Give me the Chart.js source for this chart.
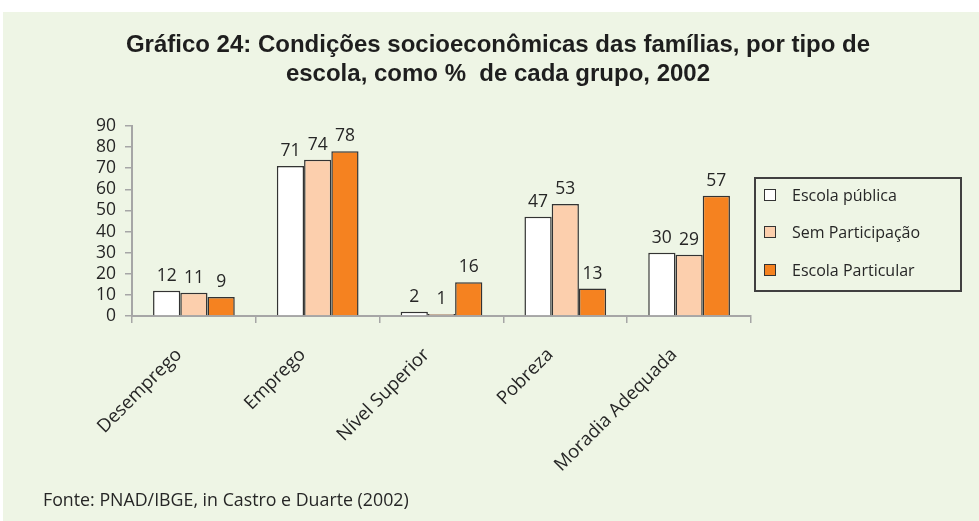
<!DOCTYPE html>
<html>
<head>
<meta charset="utf-8">
<script src="https://cdn.jsdelivr.net/npm/chart.js@4.4.0/dist/chart.umd.min.js"></script>
<style>
    html, body { margin: 0; padding: 0; background: #ffffff; }
    body { width: 979px; height: 521px; position: relative; overflow: hidden; }
    #panel { position: absolute; left: 3px; top: 12px; width: 976px; height: 509px; background: #eef5e5; }
    #chartBox { position: absolute; left: 0; top: 0; width: 976px; height: 509px; }
    #title {
        position: absolute; left: 0; top: 17px; width: 990px; text-align: center;
        font-family: 'Liberation Sans', Arial, sans-serif; font-weight: bold; font-size: 24px;
        line-height: 29px; color: #1e1e1e;
    }
    #legend {
        position: absolute; left: 751px; top: 165px; width: 204px; height: 111px;
        border: 2px solid #404040; font-family: 'Open Sans', sans-serif; font-size: 16px; color: #262626;
    }
    .item { position: absolute; left: 8px; height: 22px; line-height: 22px; white-space: nowrap; }
    .swatch { position: absolute; left: 0; top: 5px; width: 10px; height: 10px; border: 1.5px solid #333; }
    .item span.txt { position: absolute; left: 28px; top: 0; }
    #source {
        position: absolute; left: 40px; top: 475px; font-family: 'Open Sans', sans-serif;
        font-size: 17.8px; color: #262626; white-space: nowrap;
    }
</style>
</head>
<body>
<div id="panel">
    <div id="chartBox"><canvas id="barChart"></canvas></div>
    <div id="title">Gráfico 24: Condições socioeconômicas das famílias, por tipo de<br>escola, como %&nbsp; de cada grupo, 2002</div>
    <div id="legend"></div>
    <div id="source">Fonte: PNAD/IBGE, in Castro e Duarte (2002)</div>
</div>
<script>
// Data
const categories = ['Desemprego', 'Emprego', 'Nível Superior', 'Pobreza', 'Moradia Adequada'];
const escolaPublica = [12, 71, 2, 47, 30];
const semParticipacao = [11, 74, 1, 53, 29];
const escolaParticular = [9, 78, 16, 13, 57];
const seriesNames = ['Escola pública', 'Sem Participação', 'Escola Particular'];
const seriesColors = ['#ffffff', '#fccfad', '#f58220'];
const yTicks = [0, 10, 20, 30, 40, 50, 60, 70, 80, 90];

const axisGray = '#a6a6a6';
const textColor = '#262626';

Chart.defaults.font.family = 'Open Sans';

// Value labels above each bar
const valueLabels = {
    id: 'valueLabels',
    afterDatasetsDraw(chart) {
        const ctx = chart.ctx;
        ctx.save();
        ctx.font = '17.5px "Open Sans"';
        ctx.fillStyle = textColor;
        ctx.textAlign = 'center';
        ctx.textBaseline = 'middle';
        chart.data.datasets.forEach((ds, i) => {
            chart.getDatasetMeta(i).data.forEach((bar, j) => {
                ctx.fillText(ds.data[j], bar.x, bar.y - 15);
            });
        });
        ctx.restore();
    }
};

const seriesValues = [escolaPublica, semParticipacao, escolaParticular];

const chart = new Chart(document.getElementById('barChart'), {
    type: 'bar',
    data: {
        labels: categories,
        datasets: seriesNames.map((name, i) => ({
            label: name,
            data: seriesValues[i],
            backgroundColor: seriesColors[i],
            borderColor: '#333333',
            borderWidth: 1.5,
            categoryPercentage: 0.66,
            barPercentage: 1.0
        }))
    },
    options: {
        responsive: true,
        maintainAspectRatio: false,
        animation: false,
        layout: {
            autoPadding: false,
            padding: { top: 114, right: 228, bottom: 25, left: 0 }
        },
        plugins: {
            legend: { display: false },
            title: { display: false },
            tooltip: { enabled: false }
        },
        scales: {
            y: {
                min: 0,
                max: 90,
                afterBuildTicks: scale => { scale.ticks = yTicks.map(v => ({ value: v })); },
                afterFit: scale => { scale.width = 129; },
                ticks: {
                    autoSkip: false,
                    color: textColor,
                    font: { size: 17.5 },
                    padding: 9
                },
                grid: {
                    drawOnChartArea: false,
                    drawTicks: true,
                    tickLength: 7,
                    color: axisGray,
                    lineWidth: 1.5
                },
                border: { color: axisGray, width: 2 }
            },
            x: {
                afterFit: scale => { scale.height = 180; },
                ticks: {
                    autoSkip: false,
                    color: textColor,
                    font: { size: 18.5 },
                    minRotation: 45,
                    maxRotation: 45,
                    padding: 21,
                    labelOffset: -15
                },
                grid: {
                    offset: true,
                    drawOnChartArea: false,
                    drawTicks: true,
                    tickLength: 7,
                    color: axisGray,
                    lineWidth: 1.5
                },
                border: { color: axisGray, width: 2 }
            }
        }
    },
    plugins: [valueLabels]
});

// Legend box built from the chart datasets
const legendEl = document.getElementById('legend');
const itemCenters = [16, 53, 91];
chart.data.datasets.forEach((ds, i) => {
    const item = document.createElement('div');
    item.className = 'item';
    item.style.top = (itemCenters[i] - 11) + 'px';
    item.innerHTML = '<div class="swatch" style="background:' + ds.backgroundColor + '"></div><span class="txt">' + ds.label + '</span>';
    legendEl.appendChild(item);
});
</script>
</body>
</html>
